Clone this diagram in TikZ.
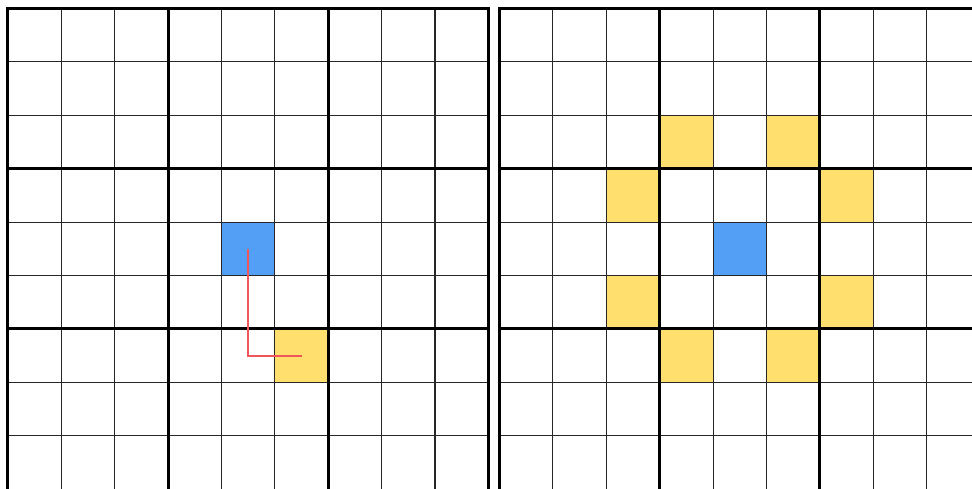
\documentclass[tikz,border=0pt]{standalone}
\definecolor{cellblue}{HTML}{539FF5}
\definecolor{cellyellow}{HTML}{FFE06E}
\definecolor{pathred}{HTML}{F0555A}
\tikzset{
  thinline/.style={line width=1.1pt, draw=black!85},
  thickline/.style={line width=3pt, draw=black},
  bluecell/.style={fill=cellblue},
  yellowcell/.style={fill=cellyellow},
  movepath/.style={line width=2pt, draw=pathred}
}
\begin{document}
\begin{tikzpicture}[x=1pt,y=-1pt]
\useasboundingbox (0,0) rectangle (972,489);
\clip (0,0) rectangle (972,489);
\fill[white] (0,0) rectangle (972,489);
\def\cs{53.4}
% left grid
\begin{scope}[shift={(7.8,8.5)}]
  \fill[bluecell] (4*\cs,4*\cs) rectangle (5*\cs,5*\cs);
  \fill[yellowcell] (5*\cs,6*\cs) rectangle (6*\cs,7*\cs);
  \foreach \i in {1,2,4,5,7,8} {
    \draw[thinline] (\i*\cs,0) -- (\i*\cs,9*\cs);
    \draw[thinline] (0,\i*\cs) -- (9*\cs,\i*\cs);
  }
  \foreach \i in {0,3,6,9} {
    \draw[thickline] (\i*\cs,-1.5) -- (\i*\cs,9*\cs+3);
  }
  \foreach \i in {0,3,6} {
    \draw[thickline] (-1.5,\i*\cs) -- (9*\cs+1.5,\i*\cs);
  }
  \draw[thickline] (-1.5,9*\cs+1.8) -- (9*\cs+1.5,9*\cs+1.8);
  \coordinate (start) at (4.5*\cs,4.5*\cs);
  \coordinate (corner) at (4.5*\cs,6.5*\cs);
  \coordinate (target) at (5.5*\cs,6.5*\cs);
  \draw[movepath] (start) -- (corner) -- (target);
\end{scope}
% right grid
\begin{scope}[shift={(499.5,8.5)}]
  \fill[bluecell] (4*\cs,4*\cs) rectangle (5*\cs,5*\cs);
  \foreach \c/\r in {3/2,5/2,2/3,6/3,2/5,6/5,3/6,5/6} {
    \fill[yellowcell] (\c*\cs,\r*\cs) rectangle (\c*\cs+\cs,\r*\cs+\cs);
  }
  \foreach \i in {1,2,4,5,7,8} {
    \draw[thinline] (\i*\cs,0) -- (\i*\cs,9*\cs);
    \draw[thinline] (0,\i*\cs) -- (9*\cs,\i*\cs);
  }
  \foreach \i in {0,3,6,9} {
    \draw[thickline] (\i*\cs,-1.5) -- (\i*\cs,9*\cs+3);
  }
  \foreach \i in {0,3,6} {
    \draw[thickline] (-1.5,\i*\cs) -- (9*\cs+1.5,\i*\cs);
  }
  \draw[thickline] (-1.5,9*\cs+1.8) -- (9*\cs+1.5,9*\cs+1.8);
\end{scope}
\end{tikzpicture}
\end{document}
